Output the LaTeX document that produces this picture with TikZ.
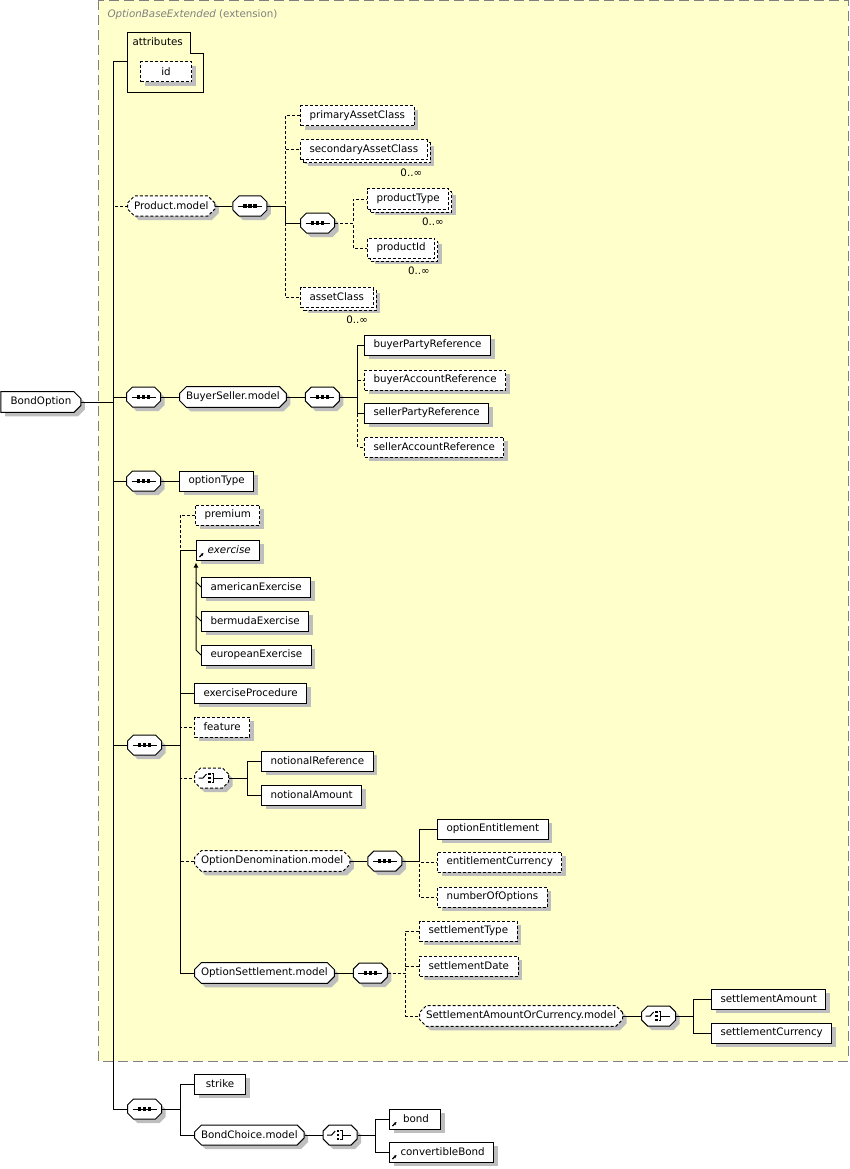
\documentclass[tikz,border=0pt]{standalone}
\usepackage{fontspec}
\setmainfont{DejaVu Sans}
\usetikzlibrary{positioning,shapes.misc,shadows,arrows.meta}

\definecolor{extfill}{RGB}{255,255,204}
\definecolor{extborder}{RGB}{128,128,128}
\definecolor{shadowgray}{RGB}{190,190,190}

\tikzset{
	optline/.style={dash pattern=on 3pt off 2pt},
	boxshadow/.style={general shadow={fill=shadowgray, shadow xshift=4pt, shadow yshift=-4pt}}
}

\begin{document}
\begin{tikzpicture}[
		x=1pt, y=-1pt,
		node distance=18pt,
		>={Latex[length=5pt,width=5pt]},
		line width=1pt,
		font=\fontsize{10.3}{12}\selectfont,
		elem/.style={
				rectangle,
				draw=black,
				fill=white,
				boxshadow,
				minimum width=51pt,
				minimum height=20pt,
				inner xsep=9pt,
				inner ysep=2pt,
				anchor=west
			},
		opt/.style={elem, optline},
		many/.style={
				general shadow={fill=shadowgray, shadow xshift=7pt, shadow yshift=-6pt},
				general shadow={fill=white, draw=black, optline, shadow xshift=3pt, shadow yshift=-3pt}
			},
		refel/.style={elem, path picture={
					\draw[solid, black, line width=1.2pt, -{Stealth[length=3pt,width=3pt]}]
					([shift={(3pt,3pt)}]path picture bounding box.south west) -- ++(4pt,4pt);
				}},
		model/.style={
				chamfered rectangle,
				chamfered rectangle sep=3.5pt,
				draw=black,
				fill=white,
				boxshadow,
				minimum height=20pt,
				inner xsep=3pt,
				inner ysep=2pt,
				anchor=west
			},
		optmodel/.style={model, optline},
		root/.style={model, chamfered rectangle corners={north east, south east}, inner xsep=6pt},
		comp/.style={
				chamfered rectangle,
				chamfered rectangle sep=3pt,
				draw=black,
				fill=white,
				boxshadow,
				minimum width=0pt,
				minimum height=0pt,
				inner xsep=14pt,
				inner ysep=7pt,
				anchor=west
			},
		seqcomp/.style={comp, path picture={
					\draw[solid, black] ([xshift=-12pt]path picture bounding box.center) -- ([xshift=12pt]path picture bounding box.center);
					\foreach \d in {-5,0,5}
					\fill[black] ([xshift=\d pt]path picture bounding box.center) +(-1.6pt,-1.6pt) rectangle +(1.6pt,1.6pt);
				}},
		choicecomp/.style={comp, path picture={
					\draw[solid, black] ([xshift=-13pt]path picture bounding box.center) -- ++(4.5pt,0pt) -- ++(3.5pt,4pt);
					\foreach \d in {-4,0,4}
					\fill[black] ([shift={(-2pt,\d pt)}]path picture bounding box.center) +(-1.3pt,-1.3pt) rectangle +(1.3pt,1.3pt);
					\draw[solid, black] ([yshift=4.5pt]path picture bounding box.center) -- ++(2pt,0pt) -- ++(0pt,-9pt) -- ++(-2pt,0pt);
					\draw[solid, black] ([xshift=2pt]path picture bounding box.center) -- ++(9pt,0pt);
				}},
		attrframe/.style={rectangle, minimum width=75pt, minimum height=59pt, inner sep=0pt, anchor=north west},
		mult/.style={inner sep=0pt, anchor=north east, xshift=-5pt, yshift=-8pt}
	]
	\useasboundingbox (0,0) rectangle (850,1169);

	% Extension frame
	\draw[draw=extborder, fill=extfill, dash pattern=on 10pt off 5pt] (98.5,0.5) rectangle (848,1061);
	\node[anchor=base west, inner sep=0pt, text=extborder] (exttitle) at (107,18) {\textit{OptionBaseExtended} (extension)};

	% Nodes
	\node[root] (bondoption) at (0.5,402) {BondOption};

	\node[attrframe] (attributes) at (127,33) {};
	\draw (attributes.north west) -- ++(63,0) -- ++(0,21) -| (attributes.south east) -- (attributes.south west) -- cycle;
	\node[anchor=north west, inner sep=0pt] (attrtitle) at (132,37) {attributes};
	\node[opt] (id) at (140,72) {id};

	\node[optmodel] (productmodel) at (127,206) {Product.model};
	\node[seqcomp, right=17pt of productmodel] (seqproduct) {};
	\node[opt] (primaryassetclass) at (300,116) {primaryAssetClass};
	\node[opt, many, label={[mult]south east:0..∞}] (secondaryassetclass) at (300,150) {secondaryAssetClass};
	\node[seqcomp] (seqproducttype) at (300,223) {};
	\node[opt, many, label={[mult]south east:0..∞}] (producttype) at (367,199) {productType};
	\node[opt, many, label={[mult]south east:0..∞}] (productid) at (367,248) {productId};
	\node[opt, many, label={[mult]south east:0..∞}] (assetclass) at (300,297) {assetClass};

	\node[seqcomp] (seqbuyerseller) at (126,397) {};
	\node[model, right=18pt of seqbuyerseller] (buyersellermodel) {BuyerSeller.model};
	\node[seqcomp, right=18pt of buyersellermodel] (seqparties) {};
	\node[elem] (buyerpartyreference) at (364,345) {buyerPartyReference};
	\node[opt] (buyeraccountreference) at (364,380) {buyerAccountReference};
	\node[elem] (sellerpartyreference) at (364,413) {sellerPartyReference};
	\node[opt] (selleraccountreference) at (364,447) {sellerAccountReference};

	\node[seqcomp] (seqoptiontype) at (126,481) {};
	\node[elem, right=18pt of seqoptiontype] (optiontype) {optionType};

	\node[seqcomp] (seqoption) at (127,745) {};
	\node[opt] (premium) at (195,515) {premium};
	\node[refel] (exercise) at (196,550) {\hspace{2pt}\textit{exercise}};
	\node[elem] (americanexercise) at (201,587) {americanExercise};
	\node[elem] (bermudaexercise) at (201,621) {bermudaExercise};
	\node[elem] (europeanexercise) at (201,655) {europeanExercise};
	\node[elem] (exerciseprocedure) at (194,693) {exerciseProcedure};
	\node[opt] (feature) at (194,727) {feature};
	\node[choicecomp, optline] (choicenotional) at (194,778) {};
	\node[elem] (notionalreference) at (261,761) {notionalReference};
	\node[elem] (notionalamount) at (261,795) {notionalAmount};
	\node[optmodel] (optiondenominationmodel) at (194,861) {OptionDenomination.model};
	\node[seqcomp, right=17pt of optiondenominationmodel] (seqdenomination) {};
	\node[elem] (optionentitlement) at (437,829) {optionEntitlement};
	\node[opt] (entitlementcurrency) at (437,862) {entitlementCurrency};
	\node[opt] (numberofoptions) at (437,897) {numberOfOptions};
	\node[model] (optionsettlementmodel) at (194,973) {OptionSettlement.model};
	\node[seqcomp, right=18pt of optionsettlementmodel] (seqsettlement) {};
	\node[opt] (settlementtype) at (419,931) {settlementType};
	\node[opt] (settlementdate) at (419,966) {settlementDate};
	\node[optmodel] (settlementamountorcurrencymodel) at (419,1016) {SettlementAmountOrCurrency.model};
	\node[choicecomp, right=18pt of settlementamountorcurrencymodel] (choicesettlement) {};
	\node[elem] (settlementamount) at (711,999) {settlementAmount};
	\node[elem] (settlementcurrency) at (711,1033) {settlementCurrency};

	\node[seqcomp] (seqstrike) at (127,1109) {};
	\node[elem] (strike) at (194,1084) {strike};
	\node[model] (bondchoicemodel) at (194,1135) {BondChoice.model};
	\node[choicecomp, right=18pt of bondchoicemodel] (choicebond) {};
	\node[refel] (bond) at (389,1119) {\hspace{2pt}bond};
	\node[refel] (convertiblebond) at (389,1152) {\hspace{2pt}convertibleBond};

	% Lines
	\draw (bondoption.east) -- ++(32,0) |- ([yshift=-29pt]attributes.north west);
	\draw[optline] (bondoption.east) -- ++(32,0) |- (productmodel.west);
	\draw (bondoption.east) -- ++(32,0) |- (seqbuyerseller.west);
	\draw (bondoption.east) -- ++(32,0) |- (seqoptiontype.west);
	\draw (bondoption.east) -- ++(32,0) |- (seqoption.west);
	\draw (bondoption.east) -- ++(32,0) |- (seqstrike.west);

	\draw (productmodel.east) -- (seqproduct.west);
	\draw[optline] (seqproduct.east) -- ++(18,0) |- (primaryassetclass.west);
	\draw[optline] (seqproduct.east) -- ++(18,0) |- (secondaryassetclass.west);
	\draw (seqproduct.east) -- ++(18,0) |- (seqproducttype.west);
	\draw[optline] (seqproduct.east) -- ++(18,0) |- (assetclass.west);
	\draw[optline] (seqproducttype.east) -- ++(18,0) |- (producttype.west);
	\draw[optline] (seqproducttype.east) -- ++(18,0) |- (productid.west);

	\draw (seqbuyerseller.east) -- (buyersellermodel.west);
	\draw (buyersellermodel.east) -- (seqparties.west);
	\draw (seqparties.east) -- ++(18,0) |- (buyerpartyreference.west);
	\draw[optline] (seqparties.east) -- ++(18,0) |- (buyeraccountreference.west);
	\draw (seqparties.east) -- ++(18,0) |- (sellerpartyreference.west);
	\draw[optline] (seqparties.east) -- ++(18,0) |- (selleraccountreference.west);

	\draw (seqoptiontype.east) -- (optiontype.west);

	\draw[optline] (seqoption.east) -- ++(18,0) |- (premium.west);
	\draw (seqoption.east) -- ++(18,0) |- (exercise.west);
	\draw (seqoption.east) -- ++(18,0) |- (exerciseprocedure.west);
	\draw[optline] (seqoption.east) -- ++(18,0) |- (feature.west);
	\draw[optline] (seqoption.east) -- ++(18,0) |- (choicenotional.west);
	\draw[optline] (seqoption.east) -- ++(18,0) |- (optiondenominationmodel.west);
	\draw (seqoption.east) -- ++(18,0) |- (optionsettlementmodel.west);

	\draw[->] (europeanexercise.west) -- ++(-5,-5) -- ([yshift=-2pt]exercise.south west);
	\draw (americanexercise.west) -- ++(-5,-5);
	\draw (bermudaexercise.west) -- ++(-5,-5);

	\draw (choicenotional.east) -- ++(18,0) |- (notionalreference.west);
	\draw (choicenotional.east) -- ++(18,0) |- (notionalamount.west);

	\draw (optiondenominationmodel.east) -- (seqdenomination.west);
	\draw (seqdenomination.east) -- ++(17,0) |- (optionentitlement.west);
	\draw[optline] (seqdenomination.east) -- ++(17,0) |- (entitlementcurrency.west);
	\draw[optline] (seqdenomination.east) -- ++(17,0) |- (numberofoptions.west);

	\draw (optionsettlementmodel.east) -- (seqsettlement.west);
	\draw[optline] (seqsettlement.east) -- ++(18,0) |- (settlementtype.west);
	\draw[optline] (seqsettlement.east) -- ++(18,0) |- (settlementdate.west);
	\draw[optline] (seqsettlement.east) -- ++(18,0) |- (settlementamountorcurrencymodel.west);
	\draw (settlementamountorcurrencymodel.east) -- (choicesettlement.west);
	\draw (choicesettlement.east) -- ++(17,0) |- (settlementamount.west);
	\draw (choicesettlement.east) -- ++(17,0) |- (settlementcurrency.west);

	\draw (seqstrike.east) -- ++(18,0) |- (strike.west);
	\draw (seqstrike.east) -- ++(18,0) |- (bondchoicemodel.west);
	\draw (bondchoicemodel.east) -- (choicebond.west);
	\draw (choicebond.east) -- ++(18,0) |- (bond.west);
	\draw (choicebond.east) -- ++(18,0) |- (convertiblebond.west);

\end{tikzpicture}
\end{document}
